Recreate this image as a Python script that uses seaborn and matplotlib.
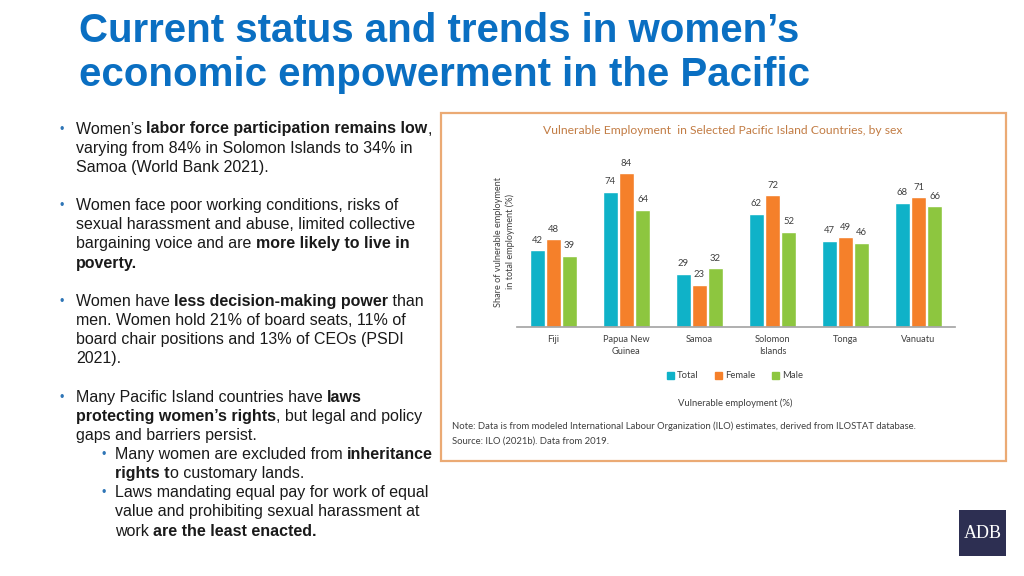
import matplotlib
matplotlib.use("Agg")
import matplotlib.pyplot as plt
from matplotlib.patches import Rectangle
import pandas as pd
import seaborn as sns

countries = ["Fiji", "Papua New\nGuinea", "Samoa", "Solomon\nIslands", "Tonga", "Vanuatu"]
total = [42, 74, 29, 62, 47, 68]
female = [48, 84, 23, 72, 49, 71]
male = [39, 64, 32, 52, 46, 66]
series = ["Total", "Female", "Male"]
colors = ["#0FB2C8", "#F5802A", "#8DC63F"]

title_lines = ["Current status and trends in women\u2019s",
               "economic empowerment in the Pacific"]

# bullet text: (level, [(text, bold), ...]) per line; level None = continuation
bullets = [
    (0, [("Women\u2019s ", False), ("labor force participation remains low", True), (",", False)]),
    (None, [("varying from 84% in Solomon Islands to 34% in", False)]),
    (None, [("Samoa (World Bank 2021).", False)]),
    ("gap", []),
    (0, [("Women face poor working conditions, risks of", False)]),
    (None, [("sexual harassment and abuse, limited collective", False)]),
    (None, [("bargaining voice and are ", False), ("more likely to live in", True)]),
    (None, [("poverty.", True)]),
    ("gap", []),
    (0, [("Women have ", False), ("less decision-making power", True), (" than", False)]),
    (None, [("men. Women hold 21% of board seats, 11% of", False)]),
    (None, [("board chair positions and 13% of CEOs (PSDI", False)]),
    (None, [("2021).", False)]),
    ("gap", []),
    (0, [("Many Pacific Island countries have ", False), ("laws", True)]),
    (None, [("protecting women\u2019s rights", True), (", but legal and policy", False)]),
    (None, [("gaps and barriers persist.", False)]),
    (1, [("Many women are excluded from ", False), ("inheritance", True)]),
    (1.5, [("rights t", True), ("o customary lands.", False)]),
    (1, [("Laws mandating equal pay for work of equal", False)]),
    (1.5, [("value and prohibiting sexual harassment at", False)]),
    (1.5, [("work ", False), ("are the least enacted.", True)]),
]

W, H = 1024, 576


def fx(x):
    return x / W


def fy(y):
    return 1 - y / H


def main() -> None:
    sns.set_theme(style="white")
    plt.rcParams["font.family"] = ["Liberation Sans", "DejaVu Sans"]

    fig = plt.figure(figsize=(10.24, 5.76), dpi=100)
    fig.patch.set_facecolor("white")
    renderer = fig.canvas.get_renderer()

    # slide title
    for i, line in enumerate(title_lines):
        fig.text(fx(79), fy(42 + i * 44), line, fontsize=29, fontweight="bold",
                 color="#0A6FC2", va="baseline", ha="left")

    # bullet text
    y = 133.5
    for level, segs in bullets:
        if level == "gap":
            y += 19.15
            continue
        if level == 0:
            fig.text(fx(60), fy(y - 4), "\u2022", fontsize=9, color="#2E75B6", va="center")
            x = 76
        elif level == 1:
            fig.text(fx(101), fy(y - 4), "\u2022", fontsize=9, color="#2E75B6", va="center")
            x = 115
        elif level == 1.5:
            x = 115
        else:
            x = 76
        for txt, bold in segs:
            t = fig.text(fx(x), fy(y), txt, fontsize=11.5, color="#1A1A1A",
                         fontweight="bold" if bold else "normal", va="baseline", ha="left")
            x += t.get_window_extent(renderer).width
        y += 19.15

    # chart frame
    fig.patches.append(Rectangle((fx(441), fy(461)), fx(1006 - 441), (461 - 113) / H,
                                 transform=fig.transFigure, fill=False,
                                 edgecolor="#EBAA74", linewidth=1.6))

    chart_font = ["Lato", "DejaVu Sans"]
    fig.text(fx(723), fy(131), "Vulnerable Employment  in Selected Pacific Island Countries, by sex",
             fontsize=8.7, color="#C27C44", ha="center", va="center", family=chart_font)

    df = pd.DataFrame({
        "country": countries * 3,
        "sex": [s for s in series for _ in countries],
        "value": total + female + male,
    })

    ax = fig.add_axes([fx(517), fy(327), fx(955 - 517), (327 - 144) / H])
    sns.barplot(data=df, x="country", y="value", hue="sex", hue_order=series,
                palette=colors, saturation=1, width=0.66, gap=0.1, ax=ax, legend=False)
    ax.set_ylim(0, 100)
    ax.set_xlim(-0.5, 5.5)
    for c in ax.containers:
        ax.bar_label(c, fmt="%d", padding=4, fontsize=6.8, color="#404040", family=chart_font)
    for s in ["top", "right", "left"]:
        ax.spines[s].set_visible(False)
    ax.spines["bottom"].set_color("#A6A6A6")
    ax.set_yticks([])
    ax.set_xlabel("")
    ax.set_ylabel("Share of vulnerable employment\nin total employment (%)", fontsize=6.6,
                  color="#404040", family=chart_font, linespacing=1.3)
    ax.yaxis.set_label_coords(-0.004, 0.465)
    ax.tick_params(axis="x", length=0, pad=6, labelsize=6.7, labelcolor="#404040")
    for lab in ax.get_xticklabels():
        lab.set_family(chart_font)
        lab.set_linespacing(1.4)
        lab.set_va("top")

    handles = [Rectangle((0, 0), 1, 1, color=c) for c in colors]
    fig.legend(handles, series, loc="center", bbox_to_anchor=(fx(735), fy(376)), ncol=3,
               frameon=False, handlelength=0.75, handleheight=0.75, handletextpad=0.3,
               columnspacing=1.8, prop={"family": chart_font, "size": 6.8},
               labelcolor="#404040")

    fig.text(fx(735), fy(403), "Vulnerable employment (%)", fontsize=6.8, color="#404040",
             ha="center", va="center", family=chart_font)
    fig.text(fx(452), fy(426),
             "Note: Data is from modeled International Labour Organization (ILO) estimates, derived from ILOSTAT database.",
             fontsize=6.8, color="#404040", ha="left", va="center", family=chart_font)
    fig.text(fx(452), fy(441), "Source: ILO (2021b). Data from 2019.", fontsize=6.8,
             color="#404040", ha="left", va="center", family=chart_font)

    # ADB logo
    fig.patches.append(Rectangle((fx(959), fy(556)), fx(47), 46 / H, transform=fig.transFigure,
                                 facecolor="#2D2F52", edgecolor="none"))
    fig.text(fx(982.5), fy(534), "ADB", fontsize=13, color="white", ha="center", va="center",
             family=["Liberation Serif", "DejaVu Serif"])

    fig.savefig("out.png", dpi=100)


if __name__ == "__main__":
    main()
